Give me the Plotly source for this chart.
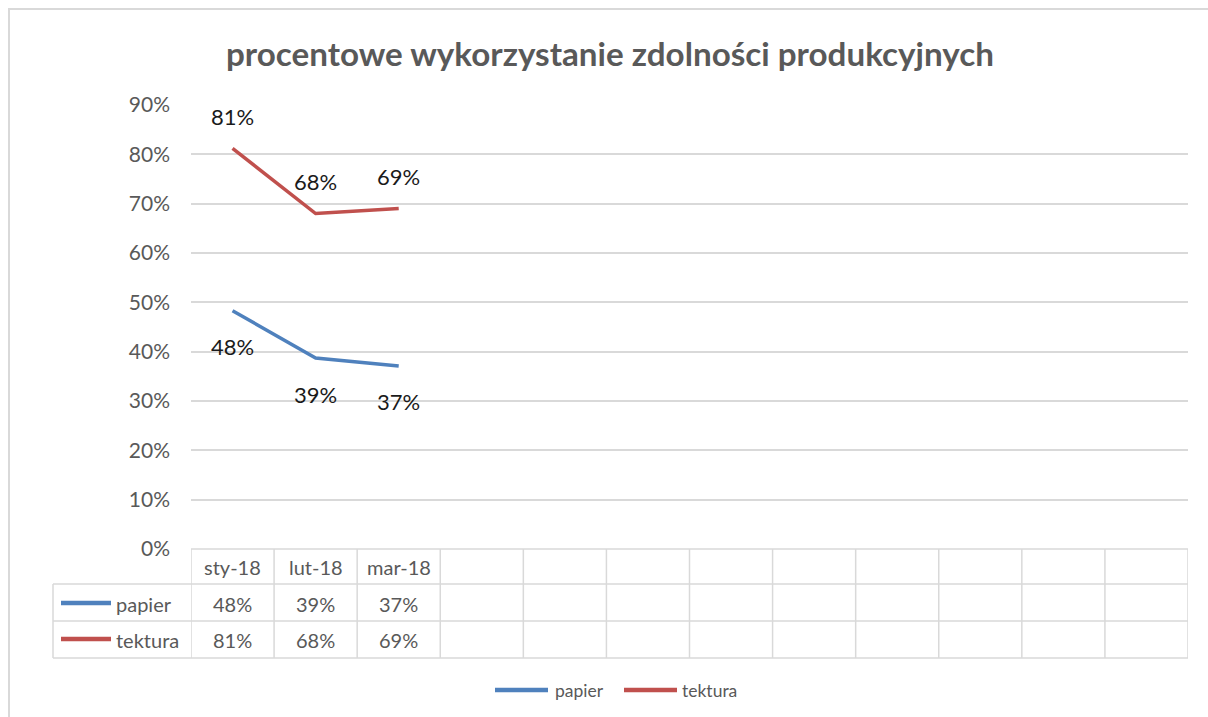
import plotly.graph_objects as go

# ---- data ----
categories = ["sty-18", "lut-18", "mar-18", "", "", "", "", "", "", "", "", ""]
series_names = ["papier", "tektura"]
papier = [0.483, 0.387, 0.371]
tektura = [0.812, 0.680, 0.690]
y_tick_vals = [0, 0.1, 0.2, 0.3, 0.4, 0.5, 0.6, 0.7, 0.8, 0.9]
y_tick_text = ["0%", "10%", "20%", "30%", "40%", "50%", "60%", "70%", "80%", "90%"]
title_text = "procentowe wykorzystanie zdolności produkcyjnych"

# ---- style ----
W, H = 1208, 717
L, R, T, B = 191, 1188, 105, 549
colors = {"papier": "#4F81BD", "tektura": "#C0504D"}
grid = "#d9d9d9"
gray = "#595959"
FONT = "Lato"
values = {"papier": papier, "tektura": tektura}
label_shift = {"papier": -36, "tektura": 32}

def px(xp):
    return (xp - L) / (R - L)

def py(yp):
    return (B - yp) / (B - T)

fig = go.Figure()
for name in series_names:
    vals = values[name]
    fig.add_trace(go.Scatter(
        x=list(range(len(vals))), y=vals, mode="lines", name=name,
        line=dict(color=colors[name], width=3.5), showlegend=False,
        hoverinfo="skip"))

annotations = []
shapes = []

def note(**kw):
    kw.setdefault("showarrow", False)
    kw.setdefault("xanchor", "center")
    kw.setdefault("yanchor", "middle")
    annotations.append(kw)

# data labels
for name in series_names:
    for i, v in enumerate(values[name]):
        note(x=i, y=v, xref="x", yref="y", text=f"{v:.0%}",
             yshift=label_shift[name], font=dict(family=FONT, size=22, color="#1a1a1a"))

# data table
n = len(categories)
row_y = {"header": 567, "papier": 604, "tektura": 640}
for i, c in enumerate(categories):
    if c:
        note(x=i, y=py(row_y["header"]), xref="x", yref="paper", text=c,
             font=dict(family=FONT, size=20, color=gray))
for name in series_names:
    for i, v in enumerate(values[name]):
        note(x=i, y=py(row_y[name]), xref="x", yref="paper", text=f"{v:.0%}",
             font=dict(family=FONT, size=20, color=gray))
    note(x=px(114), y=py(row_y[name]), xref="paper", yref="paper",
         xanchor="left", text=name, font=dict(family=FONT, size=20, color=gray))
    shapes.append(dict(type="line", xref="paper", yref="paper",
                       x0=px(61), x1=px(111), y0=py(row_y[name] - 1), y1=py(row_y[name] - 1),
                       line=dict(color=colors[name], width=4.5)))

# table grid
for yp in [584, 621, 658]:
    shapes.append(dict(type="line", xref="paper", yref="paper", x0=px(53), x1=1,
                       y0=py(yp), y1=py(yp), line=dict(color=grid, width=1.5)))
shapes.append(dict(type="line", xref="paper", yref="paper", x0=0, x1=1,
                   y0=0, y1=0, line=dict(color=grid, width=1.5)))
for k in range(n + 1):
    shapes.append(dict(type="line", xref="x", yref="paper", x0=k - 0.5, x1=k - 0.5,
                       y0=0, y1=py(658), line=dict(color=grid, width=1.5)))
shapes.append(dict(type="line", xref="paper", yref="paper", x0=px(53), x1=px(53),
                   y0=py(584), y1=py(658), line=dict(color=grid, width=1.5)))

# outer chart border
shapes.append(dict(type="rect", xref="paper", yref="paper", x0=px(9), x1=px(1230),
                   y0=py(9), y1=py(740), line=dict(color=grid, width=2), layer="below"))

# bottom legend
leg = [("papier", 495, 548, 553), ("tektura", 624, 677, 680)]
for name, x0, x1, xt in leg:
    shapes.append(dict(type="line", xref="paper", yref="paper", x0=px(x0), x1=px(x1),
                       y0=py(690), y1=py(690), line=dict(color=colors[name], width=4.5)))
    note(x=px(xt), y=py(690), xref="paper", yref="paper", xanchor="left", text=name,
         font=dict(family=FONT, size=17.5, color=gray))

# title
note(x=px(610), y=py(53), xref="paper", yref="paper", text=f"<b>{title_text}</b>",
     font=dict(family=FONT, size=33.2, color=gray))

fig.update_layout(
    width=W, height=H,
    margin=dict(l=L, r=W - R, t=T, b=H - B),
    paper_bgcolor="white", plot_bgcolor="white",
    xaxis=dict(range=[-0.5, n - 0.5], showticklabels=False, showgrid=False,
               zeroline=False, showline=False, fixedrange=True),
    yaxis=dict(range=[0, 0.9], tickvals=y_tick_vals, ticktext=y_tick_text,
               showgrid=True, gridcolor=grid, gridwidth=1.5, zeroline=False,
               showline=False, ticks="", ticklabelstandoff=20,
               tickfont=dict(family=FONT, size=21, color=gray), fixedrange=True),
    annotations=annotations, shapes=shapes, showlegend=False,
)

fig.write_html("out.html", config={"displayModeBar": False},
               post_script="document.body.style.margin='0';document.body.style.overflow='hidden';")
